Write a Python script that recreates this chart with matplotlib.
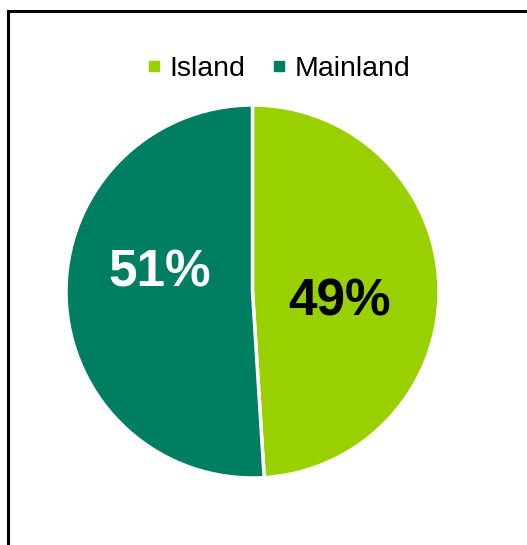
import matplotlib
matplotlib.use("Agg")
import matplotlib.pyplot as plt
from matplotlib.lines import Line2D

categories = ["Island", "Mainland"]
values = [49, 51]
colors = ["#99D100", "#007E62"]
label_colors = ["black", "white"]
label_pos = [(0.465, -0.055), (-0.497, 0.097)]

plt.rcParams['font.family'] = ['Liberation Sans', 'DejaVu Sans']

fig = plt.figure(figsize=(5.27, 5.45), dpi=100)
fig.patch.set_facecolor("white")

r_px = 186.5
cx, cy = 252.5, 291.5
ax = fig.add_axes([(cx - r_px) / 527, (545 - cy - r_px) / 545, 2 * r_px / 527, 2 * r_px / 545])
wedges, texts, autotexts = ax.pie(
    values, colors=colors, startangle=90, counterclock=False,
    autopct=lambda p: f"{p:.0f}%", pctdistance=0.5,
    wedgeprops=dict(edgecolor="white", linewidth=2.5),
)
for t, c, pos in zip(autotexts, label_colors, label_pos):
    t.set_color(c)
    t.set_fontsize(37)
    t.set_fontweight("bold")
    t.set_position(pos)
ax.set_xlim(-1, 1)
ax.set_ylim(-1, 1)
ax.set_aspect("equal")
ax.axis("off")

handles = [Line2D([0], [0], marker="s", linestyle="none", markersize=7.2,
                  markerfacecolor=c, markeredgecolor=c) for c in colors]
fig.legend(handles, categories, loc="center", bbox_to_anchor=(278 / 527, 1 - 69 / 545),
           ncol=2, frameon=False, fontsize=20.5, handlelength=0.6,
           handletextpad=0.25, columnspacing=0.9)

# outer frame (top and left edges visible)
fig.add_artist(Line2D([8 / 527, 1.0], [1 - 10.5 / 545] * 2, transform=fig.transFigure,
                      color="black", linewidth=2.2))
fig.add_artist(Line2D([8 / 527] * 2, [0, 1 - 10.5 / 545], transform=fig.transFigure,
                      color="black", linewidth=2.2))

fig.savefig("out.png", dpi=100, facecolor="white")
